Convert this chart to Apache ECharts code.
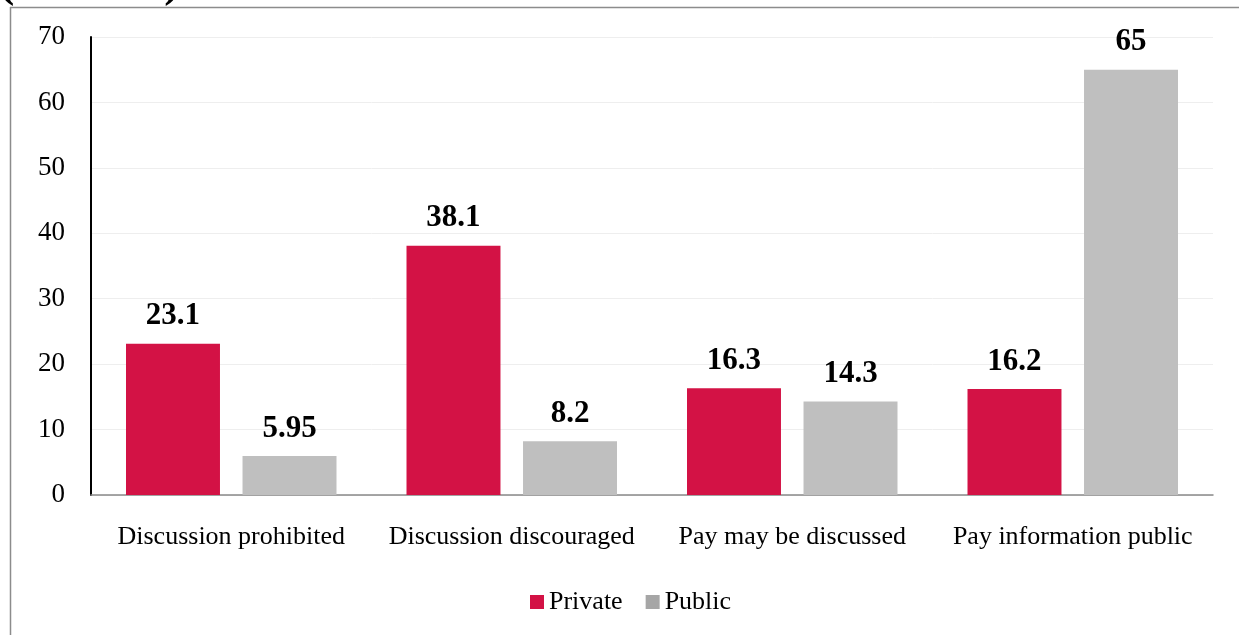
<!DOCTYPE html>
<html>
<head>
<meta charset="utf-8">
<script src="https://cdn.jsdelivr.net/npm/echarts@6/dist/echarts.min.js"></script>
<style>
  html, body { margin: 0; padding: 0; background: #fff; }
  #chart { width: 1239px; height: 635px; }
</style>
</head>
<body>
<div id="chart"></div>
<script>
const categories = ['Discussion prohibited', 'Discussion discouraged', 'Pay may be discussed', 'Pay information public'];
const privateValues = [23.1, 38.1, 16.3, 16.2];
const publicValues = [5.95, 8.2, 14.3, 65];
const seriesNames = ['Private', 'Public'];
const titleText = '(Percent)';

const serif = '"Liberation Serif", "Times New Roman", serif';
const chart = echarts.init(document.getElementById('chart'));

const labelStyle = {
  show: true,
  position: 'top',
  distance: 12,
  fontFamily: serif,
  fontWeight: 'bold',
  fontSize: 31,
  color: '#000'
};

chart.setOption({
  animation: false,
  textStyle: { fontFamily: serif },
  graphic: [
    { type: 'line', shape: { x1: 10, y1: 7.5, x2: 1239, y2: 7.5 }, style: { stroke: '#8c8c8c', lineWidth: 1.5 } },
    { type: 'line', shape: { x1: 10.5, y1: 7, x2: 10.5, y2: 635 }, style: { stroke: '#8c8c8c', lineWidth: 1.5 } },
    { type: 'text', left: -1, top: -39, style: { text: titleText, font: 'bold 46px ' + serif, fill: '#000' } }
  ],
  grid: { left: 91, right: 26, top: 37, bottom: 140, containLabel: false },
  legend: {
    bottom: 15,
    left: 525,
    itemWidth: 14,
    itemHeight: 14,
    itemGap: 23,
    icon: 'rect',
    textStyle: { fontFamily: serif, fontSize: 26, color: '#000' },
    data: [
      { name: seriesNames[0], itemStyle: { color: '#d31245' } },
      { name: seriesNames[1], itemStyle: { color: '#a6a6a6' } }
    ]
  },
  xAxis: {
    type: 'category',
    data: categories,
    axisLine: { lineStyle: { color: '#898989', width: 1.5 } },
    axisTick: { show: false },
    axisLabel: { fontFamily: serif, fontSize: 26, color: '#000', margin: 29, interval: 0 }
  },
  yAxis: {
    type: 'value',
    min: 0,
    max: 70,
    interval: 10,
    axisLine: { show: true, lineStyle: { color: '#000', width: 2 } },
    axisTick: { show: false },
    splitLine: { lineStyle: { color: '#eeeeee', width: 1 } },
    axisLabel: { fontFamily: serif, fontSize: 27, color: '#000', margin: 26 }
  },
  series: [
    {
      name: seriesNames[0],
      type: 'bar',
      data: privateValues,
      barWidth: '33.5%',
      barGap: '24%',
      itemStyle: { color: '#d31245' },
      label: labelStyle
    },
    {
      name: seriesNames[1],
      type: 'bar',
      data: publicValues,
      barWidth: '33.5%',
      itemStyle: { color: '#bfbfbf' },
      label: labelStyle
    }
  ]
});
</script>
</body>
</html>
